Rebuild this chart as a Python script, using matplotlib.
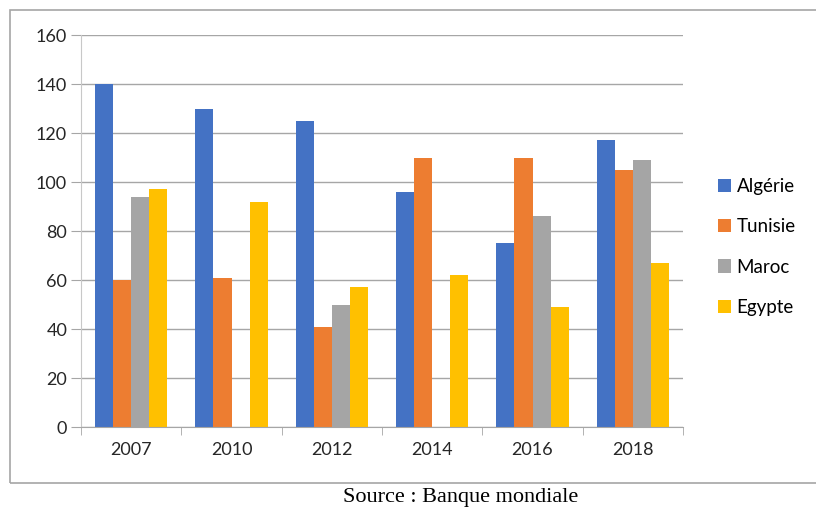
import matplotlib.pyplot as plt
import matplotlib.patches as mpatches
import numpy as np

years = ['2007', '2010', '2012', '2014', '2016', '2018']
algerie = [140, 130, 125, 96, 75, 117]
tunisie = [60, 61, 41, 110, 110, 105]
maroc = [94, np.nan, 50, np.nan, 86, 109]
egypte = [97, 92, 57, 62, 49, 67]

series = [('Algérie', algerie, '#4472C4'),
          ('Tunisie', tunisie, '#ED7D31'),
          ('Maroc', maroc, '#A5A5A5'),
          ('Egypte', egypte, '#FFC000')]

plt.rcParams['font.family'] = ['Lato', 'DejaVu Sans']

fig = plt.figure(figsize=(8.16, 5.11), dpi=100)
# outer chart frame
fig.patches.append(mpatches.Rectangle((0.012, 0.055), 1.2, 0.925, transform=fig.transFigure,
                                      fill=False, edgecolor='#a6a6a6', linewidth=1.2))

ax = fig.add_axes([0.0993, 0.164, 0.7377, 0.7675])
x = np.arange(len(years))
w = 0.18
for i, (name, vals, col) in enumerate(series):
    ax.bar(x + (i - 1.5) * w, vals, width=w, color=col, label=name)

ax.set_xlim(-0.5, len(years) - 0.5)
ax.set_ylim(0, 160)
ax.set_yticks(range(0, 161, 20))
ax.set_xticks(x)
ax.set_xticklabels(years)
ax.set_xticks(np.arange(-0.5, len(years), 1), minor=True)
ax.tick_params(axis='x', which='major', length=0, pad=11, labelsize=13, colors='#262626')
ax.tick_params(axis='x', which='minor', length=6, color='#a6a6a6', direction='out')
ax.tick_params(axis='y', length=7, color='#a6a6a6', labelsize=13, colors='#262626', pad=3)
ax.yaxis.grid(True, color='#a6a6a6', linewidth=1)
ax.set_axisbelow(True)
for s in ['top', 'right']:
    ax.spines[s].set_visible(False)
ax.spines['left'].set_color('#c8c8c8')
ax.spines['bottom'].set_color('#a6a6a6')

ax.legend(loc='center left', bbox_to_anchor=(1.03, 0.46), frameon=False, fontsize=13.5,
          handlelength=0.7, handleheight=0.7, handletextpad=0.3, labelspacing=1.25)

fig.text(0.564, 0.027, 'Source : Banque mondiale', ha='center', va='center',
         fontsize=16, family=['Liberation Serif', 'DejaVu Serif'])

fig.savefig('out.png', dpi=100)
